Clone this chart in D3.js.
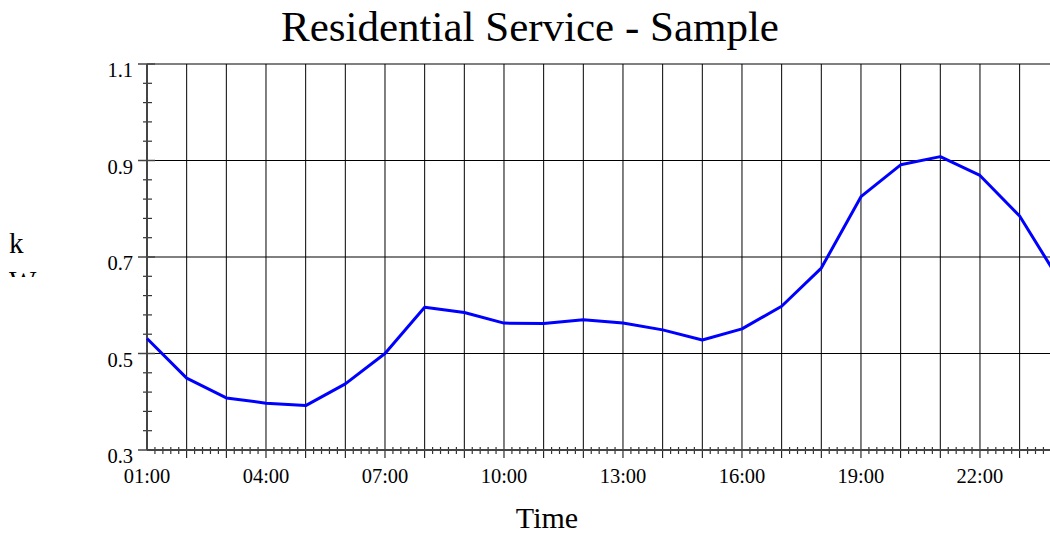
<!DOCTYPE html>
<html>
<head>
<meta charset="utf-8">
<script src="https://cdn.jsdelivr.net/npm/d3@7"></script>
<style>
html,body{margin:0;padding:0;background:#fff;overflow:hidden;}
text{font-family:"Liberation Serif","Times New Roman",serif;fill:#000;}
</style>
</head>
<body>
<svg id="chart" width="1050" height="533"></svg>
<script>
const hours = ["01:00","02:00","03:00","04:00","05:00","06:00","07:00","08:00","09:00","10:00","11:00","12:00",
               "13:00","14:00","15:00","16:00","17:00","18:00","19:00","20:00","21:00","22:00","23:00","24:00"];
const kw = [0.531,0.449,0.408,0.397,0.392,0.437,0.500,0.596,0.585,0.563,0.562,0.570,
            0.563,0.549,0.528,0.551,0.598,0.677,0.825,0.891,0.908,0.869,0.785,0.652];
const xTickLabels = ["01:00","04:00","07:00","10:00","13:00","16:00","19:00","22:00"];
const yTickValues = [0.3,0.5,0.7,0.9,1.1];
const yTickLabels = ["0.3","0.5","0.7","0.9","1.1"];
const title = "Residential Service - Sample";
const xTitle = "Time";
const yTitle = ["k","W"];

(function () {
const svg = d3.select("#chart");
const pL = 147, pR = 1059.3, pT = 64, pB = 450;

const x = d3.scaleLinear().domain([0, hours.length - 1]).range([pL, pR]);
const y = d3.scaleLinear().domain([0.3, 1.1]).range([pB, pT]);

// horizontal gridlines
svg.append("g").selectAll("line").data(yTickValues.slice(1)).join("line")
  .attr("x1", pL).attr("x2", pR)
  .attr("y1", d => y(d)).attr("y2", d => y(d))
  .attr("stroke", "#000").attr("stroke-width", 1);

// vertical gridlines (each hour) extending as major ticks below axis
svg.append("g").selectAll("line").data(hours.slice(1)).join("line")
  .attr("x1", (d, i) => x(i + 1)).attr("x2", (d, i) => x(i + 1))
  .attr("y1", pT).attr("y2", pB + 8)
  .attr("stroke", "#000").attr("stroke-width", 1);

// x minor ticks
const xMinor = [];
for (let i = 0; i < hours.length - 1; i++) for (let k = 1; k < 5; k++) xMinor.push(i + k / 5);
svg.append("g").selectAll("line").data(xMinor).join("line")
  .attr("x1", d => x(d)).attr("x2", d => x(d))
  .attr("y1", pB - 3).attr("y2", pB + 4)
  .attr("stroke", "#333").attr("stroke-width", 1.2);

// y minor ticks
const yMinor = d3.range(0.34, 1.1, 0.04).filter(v => Math.abs((v - 0.3) / 0.2 - Math.round((v - 0.3) / 0.2)) > 0.01);
svg.append("g").selectAll("line").data(yMinor).join("line")
  .attr("x1", pL - 4).attr("x2", pL + 5)
  .attr("y1", d => y(d)).attr("y2", d => y(d))
  .attr("stroke", "#333").attr("stroke-width", 1.2);

// y major ticks
svg.append("g").selectAll("line").data(yTickValues).join("line")
  .attr("x1", pL - 9).attr("x2", pL + 8)
  .attr("y1", d => y(d)).attr("y2", d => y(d))
  .attr("stroke", "#444").attr("stroke-width", 1.5);

// axis lines
svg.append("line").attr("x1", pL).attr("x2", pL).attr("y1", pT).attr("y2", pB)
  .attr("stroke", "#444").attr("stroke-width", 2);
svg.append("line").attr("x1", pL).attr("x2", pR).attr("y1", pB).attr("y2", pB)
  .attr("stroke", "#444").attr("stroke-width", 2);

// data line
const line = d3.line().x((d, i) => x(i)).y(d => y(d));
svg.append("path").datum(kw).attr("d", line)
  .attr("fill", "none").attr("stroke", "#0000ff").attr("stroke-width", 3).attr("stroke-linejoin", "round");

// y tick labels
svg.append("g").selectAll("text").data(yTickValues).join("text")
  .attr("x", pL - 14).attr("y", d => y(d) + 13)
  .attr("text-anchor", "end").attr("font-size", 20.5)
  .text((d, i) => yTickLabels[i]);

// x tick labels
svg.append("g").selectAll("text").data(xTickLabels).join("text")
  .attr("x", d => x(hours.indexOf(d))).attr("y", 483)
  .attr("text-anchor", "middle").attr("font-size", 20.5)
  .text(d => d);

// title
svg.append("text").attr("x", 530).attr("y", 41).attr("text-anchor", "middle")
  .attr("font-size", 43).text(title);

// x title
svg.append("text").attr("x", 547).attr("y", 528).attr("text-anchor", "middle")
  .attr("font-size", 30).text(xTitle);

// y title (stacked, clipped)
svg.append("clipPath").attr("id", "yclip").append("rect")
  .attr("x", 0).attr("y", 220).attr("width", 60).attr("height", 57);
const yt = svg.append("g").attr("clip-path", "url(#yclip)");
yt.selectAll("text").data(yTitle).join("text")
  .attr("x", 9).attr("y", (d, i) => 253 + i * 38)
  .attr("font-size", 29).text(d => d);
})();
</script>
</body>
</html>
